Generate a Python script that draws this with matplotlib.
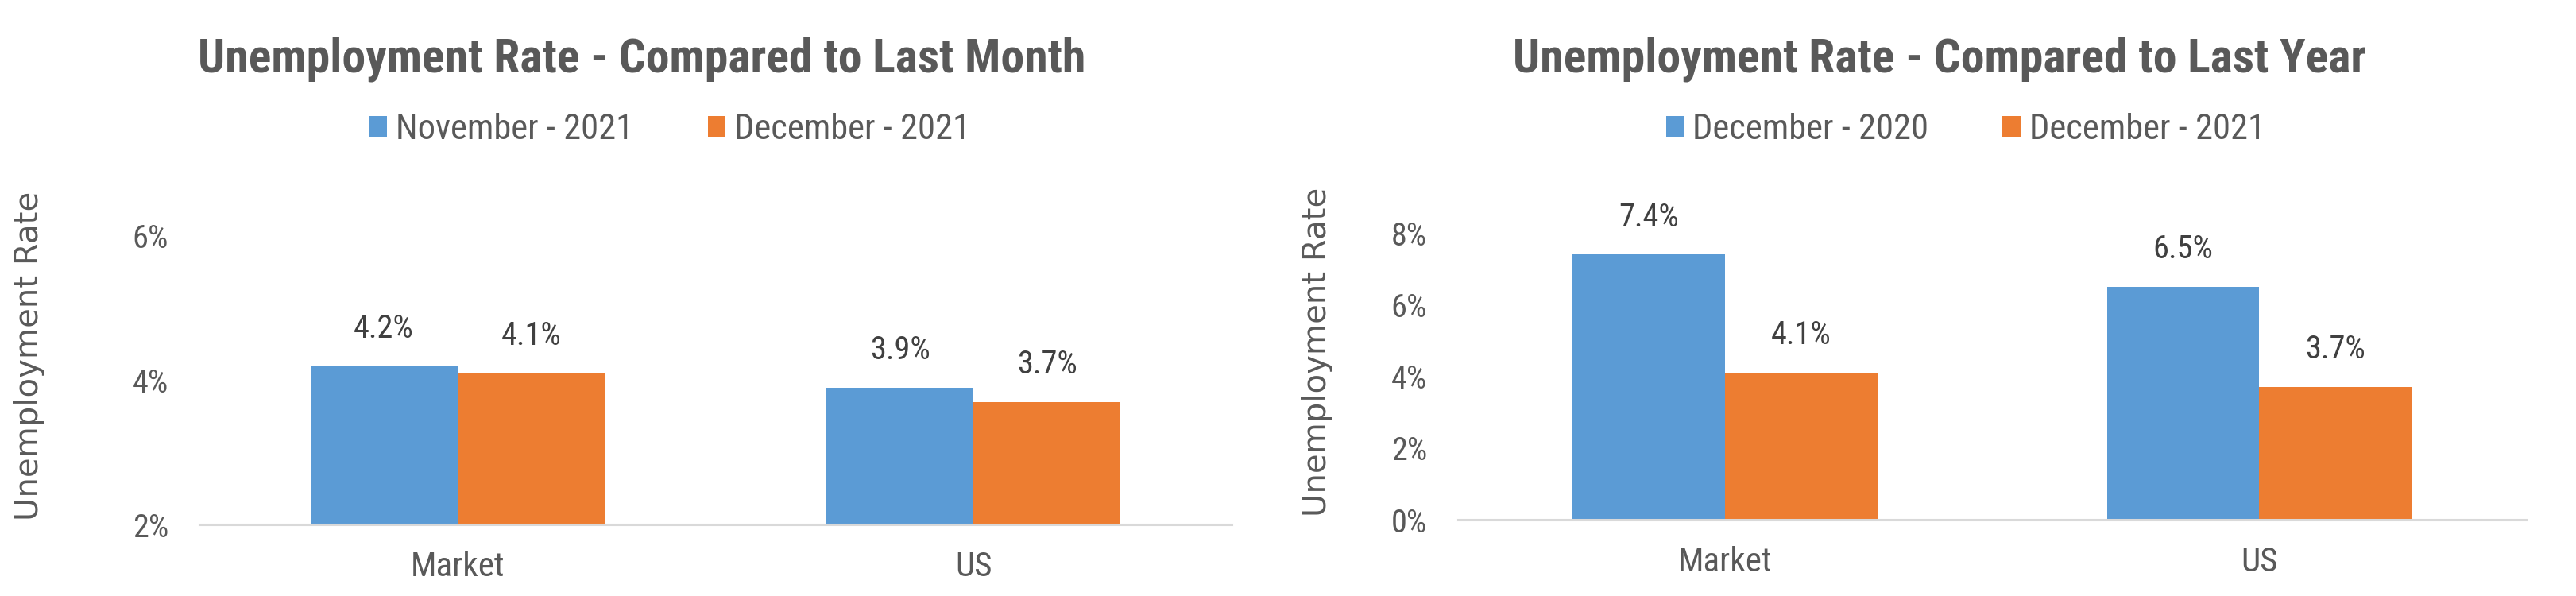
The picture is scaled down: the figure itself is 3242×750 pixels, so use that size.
import matplotlib.pyplot as plt
import numpy as np

# data
categories = ['Market', 'US']
month_labels = ['November - 2021', 'December - 2021']
month_prev = [4.2, 3.9]
month_curr = [4.1, 3.7]
year_labels = ['December - 2020', 'December - 2021']
year_prev = [7.4, 6.5]
year_curr = [4.1, 3.7]

BLUE = '#5B9BD5'
ORANGE = '#ED7D31'
GREY = '#595959'
FONT = ['Roboto Condensed', 'Liberation Sans Narrow', 'DejaVu Sans']

plt.rcParams['font.family'] = FONT

fig = plt.figure(figsize=(32.42, 7.5), dpi=100)


def draw(rect, prev, curr, labels, title, ylim, yticks, title_x, legend_x):
    ax = fig.add_axes(rect)
    x = np.arange(len(categories))
    w = 0.285
    b1 = ax.bar(x - w / 2, prev, w, color=BLUE, label=labels[0])
    b2 = ax.bar(x + w / 2, curr, w, color=ORANGE, label=labels[1])
    for b in (b1, b2):
        ax.bar_label(b, labels=[f'{v:.1f}%' for v in b.datavalues],
                     padding=20, fontsize=29, color='#404040')
    ax.set_xlim(-0.5, 1.5)
    ax.set_ylim(*ylim)
    ax.set_yticks(yticks)
    ax.set_yticklabels([f'{t}%' for t in yticks])
    ax.set_xticks(x)
    ax.set_xticklabels(categories)
    ax.tick_params(axis='y', length=0, labelsize=29, labelcolor=GREY, pad=28)
    ax.tick_params(axis='x', length=0, labelsize=31, labelcolor=GREY, pad=24)
    for s in ('top', 'right', 'left'):
        ax.spines[s].set_visible(False)
    ax.spines['bottom'].set_color('#D9D9D9')
    ax.spines['bottom'].set_linewidth(2.2)
    fig.text(title_x, 0.9, title, ha='center', va='center', fontsize=43,
             fontweight='bold', color=GREY)
    ax.legend(loc='center', bbox_to_anchor=(legend_x, 0.783), bbox_transform=fig.transFigure,
              ncol=2, frameon=False, fontsize=32, labelcolor=GREY, handlelength=0.5,
              handleheight=0.55, handletextpad=0.25, columnspacing=2.1)
    return ax


draw([0.0774, 0.12, 0.4007, 0.484], month_prev, month_curr, month_labels,
     'Unemployment Rate - Compared to Last Month', (2, 6), [2, 4, 6], 0.249, 0.26)
draw([0.566, 0.128, 0.4146, 0.481], year_prev, year_curr, year_labels,
     'Unemployment Rate - Compared to Last Year', (0, 8), [0, 2, 4, 6, 8], 0.753, 0.763)

fig.text(0.0114, 0.403, 'Unemployment Rate', rotation=90, ha='center', va='center',
         fontsize=29, color=GREY, family='DejaVu Sans')
fig.text(0.5114, 0.409, 'Unemployment Rate', rotation=90, ha='center', va='center',
         fontsize=29, color=GREY, family='DejaVu Sans')

fig.savefig('out.png', dpi=100)
